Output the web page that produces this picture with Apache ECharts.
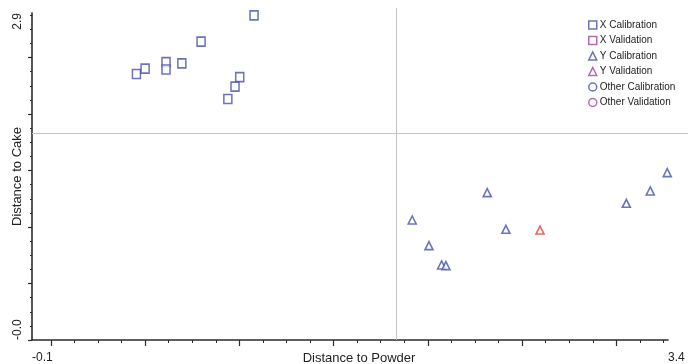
<!DOCTYPE html>
<html>
<head>
<meta charset="utf-8">
<script src="https://cdn.jsdelivr.net/npm/echarts@6/dist/echarts.min.js"></script>
<style>html,body{margin:0;padding:0;background:#fff}#c{width:688px;height:364px}</style>
</head>
<body>
<div id="c"></div>
<script>
// ---- data ----
const seriesNames = ['X Calibration','X Validation','Y Calibration','Y Validation','Other Calibration','Other Validation'];
const xCalX = [0.454, 0.500, 0.611, 0.611, 0.695, 0.797, 1.078, 1.002, 0.977, 0.939];
const xCalY = [2.354, 2.401, 2.460, 2.394, 2.449, 2.640, 2.873, 2.327, 2.242, 2.133];
const yCalX = [1.917, 2.006, 2.073, 2.096, 2.315, 2.414, 3.053, 3.180, 3.270];
const yCalY = [1.062, 0.835, 0.664, 0.658, 1.304, 0.980, 1.210, 1.319, 1.481];
const yValX = [2.595];
const yValY = [0.973];
const limitX = 1.830;   // vertical reference line (Distance to Powder)
const limitY = 1.835;   // horizontal reference line (Distance to Cake)
const xMin = -0.1, xMax = 3.274;
const yMin = 0, yMax = 2.894;
const xTickLabels = ['-0.1', '3.4'];
const yTickLabels = ['-0.0', '2.9'];
const xMajor = [0, 0.5, 1.0, 1.5, 2.0, 2.5, 3.0];
const xMinor = [0.125,0.25,0.375,0.625,0.75,0.875,1.125,1.25,1.375,1.625,1.75,1.875,2.125,2.25,2.375,2.625,2.75,2.875,3.125,3.25];
const yMajor = [0, 0.5, 1.0, 1.5, 2.0, 2.5];
const yMinor = [0.125,0.25,0.375,0.625,0.75,0.875,1.125,1.25,1.375,1.625,1.75,1.875,2.125,2.25,2.375,2.625,2.75,2.875];

// ---- styles ----
const BLUE = '#4650ad', PURPLE = '#a2449c', RED = '#e2413c';
const FONT = "'Liberation Sans Narrow','Liberation Sans',Arial,sans-serif";
const AX = '#2b2b2b';
const zip = (a, b) => a.map((v, i) => [v, b[i]]);

const legendIcons = ['rect','rect','triangle','triangle','circle','circle'];
const legendColors = [BLUE, PURPLE, BLUE, PURPLE, BLUE, PURPLE];

function pointSeries(name, data, symbol, color, size) {
  return {
    name, type: 'scatter', xAxisIndex: 0, yAxisIndex: 0, data,
    symbol, symbolSize: size, clip: false,
    itemStyle: { color: '#ffffff', borderColor: color, borderWidth: 1.6 },
    emphasis: { disabled: true }
  };
}

const chart = echarts.init(document.getElementById('c'), null, { renderer: 'canvas' });
chart.setOption({
  animation: false,
  backgroundColor: '#ffffff',
  textStyle: { fontFamily: FONT },
  grid: [
    { left: 32, right: 20, top: 13, bottom: 24, containLabel: false, outerBoundsMode: 'none' },
    { left: 32, right: 0, top: 8, bottom: 24, containLabel: false, outerBoundsMode: 'none' }
  ],
  legend: {
    orient: 'vertical', left: 583, top: 15,
    itemWidth: 8, itemHeight: 8, itemGap: 5.5,
    textStyle: { fontFamily: FONT, fontSize: 10, color: '#222', padding: [0, 0, 0, -2] },
    data: seriesNames.map((n, i) => ({
      name: n, icon: legendIcons[i],
      itemStyle: { color: '#ffffff', borderColor: legendColors[i], borderWidth: 1.5 }
    }))
  },
  xAxis: [
    {
      gridIndex: 0, type: 'value', min: xMin, max: xMax, position: 'bottom', offset: 0,
      name: 'Distance to Powder', nameLocation: 'middle', nameGap: 12, nameMoveOverlap: false,
      nameTextStyle: { fontFamily: FONT, fontSize: 13, color: '#222', padding: [0, 0, 0, 18] },
      axisLine: { show: true, onZero: false, lineStyle: { color: AX, width: 1.6 } },
      axisTick: { show: true, inside: false, length: 6, customValues: xMajor, lineStyle: { color: AX, width: 1.2 } },
      axisLabel: {
        show: true, customValues: [xMin, xMax], margin: 12,
        fontFamily: FONT, fontSize: 12, color: '#222',
        alignMinLabel: 'left', alignMaxLabel: 'left',
        formatter: v => (v === xMin ? xTickLabels[0] : xTickLabels[1])
      },
      splitLine: { show: false }
    },
    {
      gridIndex: 0, type: 'value', min: xMin, max: xMax, position: 'bottom', offset: 0,
      axisLine: { show: false, onZero: false },
      axisTick: { show: true, inside: false, length: 3, customValues: xMinor, lineStyle: { color: AX, width: 1 } },
      axisLabel: { show: false }, splitLine: { show: false }
    },
    {
      gridIndex: 1, type: 'value', min: xMin, max: xMin + 656 / 188.5, show: false
    }
  ],
  yAxis: [
    {
      gridIndex: 0, type: 'value', min: yMin, max: yMax, position: 'left', offset: 0,
      name: 'Distance to Cake', nameLocation: 'middle', nameGap: 8, nameRotate: 90, nameMoveOverlap: false,
      nameTextStyle: { fontFamily: FONT, fontSize: 13, color: '#222' },
      axisLine: { show: true, onZero: false, lineStyle: { color: AX, width: 1.6 } },
      axisTick: { show: true, inside: false, length: 4, customValues: yMajor, lineStyle: { color: AX, width: 1.2 } },
      axisLabel: {
        show: true, customValues: [yMin, yMax], rotate: 90, margin: 8,
        fontFamily: FONT, fontSize: 12, color: '#222',
        alignMinLabel: 'left', alignMaxLabel: 'right',
        formatter: v => (v === yMin ? yTickLabels[0] : yTickLabels[1])
      },
      splitLine: { show: false }
    },
    {
      gridIndex: 0, type: 'value', min: yMin, max: yMax, position: 'left', offset: 0,
      axisLine: { show: false, onZero: false },
      axisTick: { show: true, inside: false, length: 2, customValues: yMinor, lineStyle: { color: AX, width: 1 } },
      axisLabel: { show: false }, splitLine: { show: false }
    },
    {
      gridIndex: 1, type: 'value', min: yMin, max: 332 / 113, show: false
    }
  ],
  series: [
    {
      name: '__limits', type: 'scatter', xAxisIndex: 2, yAxisIndex: 2,
      data: [], silent: true, legendHoverLink: false,
      markLine: {
        silent: true, symbol: 'none', animation: false,
        label: { show: false },
        lineStyle: { color: '#c4c4c4', width: 1, type: 'solid' },
        data: [{ xAxis: limitX }, { yAxis: limitY }]
      }
    },
    pointSeries(seriesNames[0], zip(xCalX, xCalY), 'rect', BLUE, [8, 9]),
    pointSeries(seriesNames[1], [], 'rect', PURPLE, [8, 9]),
    pointSeries(seriesNames[2], zip(yCalX, yCalY), 'triangle', BLUE, [8, 8]),
    pointSeries(seriesNames[3], zip(yValX, yValY), 'triangle', RED, [8, 8]),
    pointSeries(seriesNames[4], [], 'circle', BLUE, 8),
    pointSeries(seriesNames[5], [], 'circle', PURPLE, 8)
  ]
});
</script>
</body>
</html>
